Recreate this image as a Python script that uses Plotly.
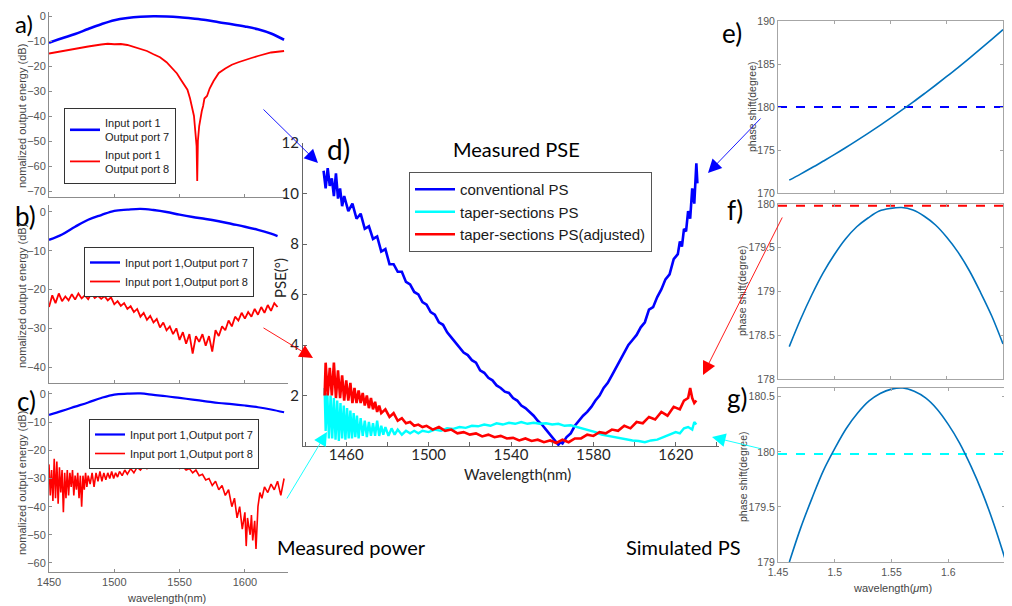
import plotly.graph_objects as go

# The page body keeps its default 8px margin, so the figure is drawn 8px in from
# the window's top-left corner; all reference pixel positions are shifted by OFF.
OFF = 8
W, H = 1012 - OFF, 606 - OFF

# ---------------- data ----------------
# panel a
a_wl_blue = [1450, 1460, 1470, 1480, 1490, 1500, 1510, 1520, 1530, 1540, 1550, 1560, 1570, 1580, 1590, 1600, 1610, 1620, 1630]
a_blue = [-10.7, -8.9, -7.2, -5.2, -3.3, -1.7, -0.8, -0.3, -0.1, -0.2, -0.5, -1.0, -1.6, -2.5, -3.3, -4.2, -5.3, -7.0, -9.5]
a_wl_red = [1450, 1460, 1470, 1480, 1490, 1495, 1500, 1505, 1510, 1515, 1520, 1525, 1530, 1535, 1540, 1545, 1548, 1551,
            1554, 1556, 1558, 1560, 1561, 1562, 1563, 1563.5, 1564, 1565, 1566, 1567, 1568, 1569, 1571, 1573, 1576,
            1580, 1585, 1590, 1595, 1600, 1605, 1610, 1615, 1620, 1625, 1630]
a_red = [-15.0, -14.0, -13.0, -12.2, -11.4, -11.1, -11.3, -11.2, -11.6, -12.3, -13.0, -14.0, -15.3, -16.5, -18.5, -21.5,
         -23.0, -25.5, -28.0, -29.5, -33.0, -37.0, -40.0, -46.0, -52.0, -66.0, -50.0, -44.0, -40.0, -38.0, -36.0, -33.0,
         -32.0, -29.0, -26.0, -22.8, -21.0, -19.5, -18.5, -17.5, -16.8, -16.0, -15.3, -14.6, -14.3, -14.0]

# panel b
b_wl_blue = [1450, 1460, 1470, 1480, 1490, 1500, 1510, 1520, 1530, 1540, 1550, 1560, 1570, 1580, 1590, 1600, 1610, 1620, 1625]
b_blue = [-7.2, -5.8, -3.8, -2.0, -0.8, 0.3, 0.6, 0.8, 0.5, 0.0, -0.7, -1.3, -1.8, -2.4, -3.1, -3.8, -4.6, -5.6, -6.2]
b_wl_red = [1450.0, 1452.5, 1455.0, 1457.5, 1460.0, 1462.5, 1465.0, 1467.5, 1470.0, 1472.5, 1475.0, 1477.5, 1480.0,
            1482.5, 1485.0, 1487.5, 1490.0, 1492.5, 1495.0, 1497.5, 1500.0, 1502.5, 1505.0, 1507.5, 1510.0, 1512.5,
            1515.0, 1517.5, 1520.0, 1522.5, 1525.0, 1527.5, 1530.0, 1532.5, 1535.0, 1537.5, 1540.0, 1542.5, 1545.0,
            1547.5, 1550.0, 1552.5, 1555.0, 1557.5, 1560.0, 1562.5, 1565.0, 1567.5, 1570.0, 1572.5, 1575.0, 1577.5,
            1580.0, 1582.5, 1585.0, 1587.5, 1590.0, 1592.5, 1595.0, 1597.5, 1600.0, 1602.5, 1605.0, 1607.5, 1610.0,
            1612.5, 1615.0, 1617.5, 1620.0, 1622.5, 1625.0]
b_red = [-24.5, -21.5, -23.5, -21.0, -23.0, -21.8, -22.8, -21.2, -22.6, -21.0, -22.3, -21.5, -22.5, -21.0, -22.2,
         -21.6, -22.4, -21.7, -22.8, -22.0, -23.8, -23.0, -24.2, -23.5, -25.0, -24.3, -25.8, -25.0, -27.0, -26.0,
         -27.8, -26.8, -28.5, -27.6, -29.8, -28.5, -30.5, -29.5, -31.5, -30.0, -33.0, -31.0, -34.0, -31.5, -36.5,
         -32.0, -33.5, -31.5, -34.5, -32.0, -36.0, -30.5, -32.0, -29.5, -30.5, -28.0, -29.5, -27.0, -28.0, -26.0,
         -27.5, -25.8, -27.0, -25.0, -26.5, -24.5, -26.0, -24.0, -25.5, -23.5, -24.5]

# panel c
c_wl_blue = [1450, 1460, 1470, 1480, 1490, 1500, 1510, 1520, 1530, 1540, 1550, 1560, 1570, 1580, 1590, 1600, 1610, 1620, 1630]
c_blue = [-7.4, -6.0, -4.5, -3.0, -1.4, -0.2, 0.1, 0.2, -0.3, -0.8, -1.4, -2.0, -2.6, -3.2, -3.6, -4.1, -4.7, -5.5, -6.5]
c_wl_red = [1450, 1451, 1452, 1453, 1454, 1455, 1456, 1457, 1458, 1459, 1460, 1461, 1462, 1463, 1464, 1465, 1466, 1467,
            1468, 1469, 1470, 1471, 1472, 1473, 1474, 1475, 1476, 1477, 1478, 1479, 1480, 1481.5, 1483, 1484.5, 1486,
            1487.5, 1489, 1490.5, 1492, 1493.5, 1495, 1496.5, 1498, 1499.5, 1501, 1502.5, 1504, 1506, 1508, 1510,
            1512.5, 1515, 1517.5, 1520, 1522.5, 1525, 1527.5, 1530, 1532.5, 1535, 1537.5, 1540, 1542.5, 1545, 1547.5,
            1550, 1552.5, 1555, 1557.5, 1560, 1562.5, 1565, 1567.5, 1570, 1572.5, 1575, 1577.5, 1580, 1582.5, 1585,
            1587.5, 1590, 1592, 1594, 1596, 1598, 1600, 1601, 1602, 1604, 1605, 1606, 1607.5, 1608.5, 1610, 1611.5,
            1613, 1615, 1617.5, 1620, 1622.5, 1625, 1627.5, 1630]
c_red = [-25, -36, -27, -38, -23, -37, -24, -39, -26, -35, -27, -42, -28, -37, -27, -36, -28, -33, -27, -36, -29, -34,
         -28, -37, -29, -40, -29, -34, -28, -33, -29, -32, -28, -33, -28, -31, -27.5, -31, -28, -30.5, -28, -30, -27.5,
         -30, -28, -29.5, -27.5, -29, -27, -28.5, -26.5, -28, -26, -27, -25.5, -26.5, -25.5, -26, -25, -26, -25.2, -26,
         -25.5, -26.2, -25.5, -26.5, -25.8, -27, -26.5, -28, -27, -29, -28.5, -30.5, -30, -32.5, -31, -34, -32.5, -36,
         -34, -40, -37, -44, -40, -48, -42, -54, -44, -50, -43, -52, -45, -55, -40, -35, -37, -33, -35, -32, -34, -31,
         -36, -30]

# panel d (PSE)
d_wl_conv = [1449, 1450, 1451, 1452, 1453, 1454, 1455, 1456, 1457, 1458, 1459, 1461, 1463, 1465, 1467, 1469, 1471, 1473,
             1475, 1477, 1479, 1481, 1483, 1485, 1487, 1489, 1491, 1493, 1495, 1497, 1499, 1501, 1503, 1505, 1507, 1509,
             1511, 1513, 1515, 1517, 1519, 1521, 1523, 1525, 1527, 1529, 1531, 1533, 1535, 1537, 1539, 1541, 1543, 1545,
             1547, 1549, 1551, 1553, 1555, 1557, 1559, 1561, 1563, 1564, 1565, 1567, 1569, 1571, 1573, 1575, 1577, 1579,
             1581, 1583, 1585, 1587, 1589, 1591, 1593, 1595, 1597, 1599, 1601, 1603, 1605, 1607, 1609, 1611, 1613, 1615,
             1617, 1619, 1621, 1622, 1623, 1624, 1625, 1626, 1627, 1628, 1629, 1630, 1630.5]
d_conv = [10.9, 10.2, 11.0, 10.3, 10.6, 9.9, 10.8, 9.8, 10.2, 9.5, 9.9, 9.3, 9.6, 9.0, 9.2, 8.6, 8.7, 8.2, 8.3, 7.7, 7.8,
          7.2, 7.2, 6.9, 6.9, 6.5, 6.4, 6.1, 6.0, 5.7, 5.6, 5.3, 5.2, 4.9, 4.8, 4.5, 4.3, 4.1, 3.9, 3.7, 3.6, 3.4, 3.3,
          3.0, 2.9, 2.7, 2.6, 2.4, 2.3, 2.15, 2.1, 1.9, 1.8, 1.6, 1.5, 1.35, 1.2, 1.0, 0.85, 0.65, 0.45, 0.25, 0.05,
          0.15, 0.1, 0.35, 0.5, 0.8, 1.0, 1.2, 1.35, 1.55, 1.8, 2.0, 2.3, 2.5, 2.8, 3.1, 3.4, 3.7, 4.0, 4.2, 4.4, 4.7,
          4.9, 5.4, 5.5, 5.9, 6.2, 6.6, 6.8, 7.4, 7.6, 8.1, 7.9, 8.6, 8.5, 9.3, 9.0, 10.2, 9.6, 11.2, 10.4]
d_wl_adj = [1449.5, 1450, 1451, 1452, 1453, 1454, 1455, 1456, 1457, 1458, 1459, 1460, 1461, 1462, 1463, 1464, 1465, 1466,
            1467, 1468, 1469, 1470, 1471, 1472, 1473, 1474, 1475, 1476, 1477, 1479, 1481, 1483, 1485, 1487, 1489, 1491,
            1493, 1495, 1497, 1499, 1502, 1505, 1508, 1511, 1514, 1517, 1520, 1523, 1526, 1529, 1532, 1535, 1538, 1541,
            1544, 1547, 1550, 1553, 1556, 1559, 1562, 1565, 1568, 1571, 1574, 1577, 1580, 1583, 1586, 1589, 1592, 1595,
            1598, 1601, 1604, 1607, 1610, 1613, 1616, 1619, 1622, 1624, 1626, 1627, 1628, 1629, 1630]
d_adj = [2.0, 3.3, 2.0, 3.1, 2.0, 3.3, 1.9, 3.0, 1.9, 2.8, 1.8, 2.6, 1.8, 2.5, 1.7, 2.3, 1.7, 2.2, 1.7, 2.1, 1.6, 2.0,
         1.5, 1.9, 1.45, 1.75, 1.35, 1.6, 1.3, 1.45, 1.15, 1.3, 1.0, 1.1, 0.9, 0.95, 0.8, 0.85, 0.75, 0.8, 0.65, 0.75,
         0.6, 0.65, 0.5, 0.55, 0.45, 0.5, 0.38, 0.45, 0.35, 0.4, 0.3, 0.32, 0.22, 0.3, 0.2, 0.25, 0.15, 0.22, 0.12,
         0.25, 0.15, 0.3, 0.3, 0.45, 0.4, 0.55, 0.5, 0.65, 0.6, 0.8, 0.7, 0.95, 0.9, 1.15, 1.05, 1.35, 1.2, 1.55, 1.45,
         1.8, 1.9, 2.3, 1.9, 1.7, 1.8]
d_wl_taper = [1449.5, 1450, 1450.8, 1451.6, 1452.4, 1453.2, 1454, 1454.8, 1455.6, 1456.4, 1457.2, 1458, 1458.8, 1459.6,
              1460.4, 1461.2, 1462, 1462.8, 1463.6, 1464.4, 1465.2, 1466, 1467, 1468, 1469, 1470, 1471, 1472, 1473,
              1474, 1475, 1476, 1477, 1478, 1479, 1480.5, 1482, 1483.5, 1485, 1487, 1489, 1491, 1493, 1495, 1497, 1500,
              1503, 1506, 1509, 1512, 1515, 1518, 1521, 1524, 1527, 1530, 1533, 1536, 1539, 1542, 1545, 1548, 1551,
              1554, 1557, 1560, 1563, 1566, 1569, 1572, 1575, 1578, 1581, 1584, 1587, 1590, 1593, 1596, 1599, 1602,
              1605, 1608, 1611, 1614, 1617, 1620, 1622, 1624, 1626, 1628, 1629, 1630]
d_taper = [2.3, 0.6, 2.1, 0.3, 2.0, 0.3, 1.9, 0.25, 1.8, 0.2, 1.7, 0.3, 1.6, 0.25, 1.5, 0.3, 1.4, 0.3, 1.3, 0.35, 1.2,
           0.3, 1.1, 0.4, 1.0, 0.35, 0.95, 0.4, 0.9, 0.4, 1.0, 0.4, 0.8, 0.45, 0.75, 0.4, 0.7, 0.45, 0.65, 0.45, 0.6,
           0.5, 0.6, 0.5, 0.6, 0.55, 0.65, 0.6, 0.7, 0.68, 0.75, 0.72, 0.8, 0.78, 0.85, 0.8, 0.9, 0.85, 0.92, 0.88,
           0.95, 0.88, 0.92, 0.88, 0.9, 0.85, 0.88, 0.8, 0.82, 0.75, 0.7, 0.6, 0.55, 0.45, 0.4, 0.35, 0.3, 0.25, 0.22,
           0.2, 0.15, 0.22, 0.25, 0.35, 0.45, 0.55, 0.5, 0.7, 0.75, 0.65, 0.95, 0.85]

# panels e, f, g (simulated phase shift, wavelength in um)
sim_wl = [1.46, 1.47, 1.48, 1.49, 1.50, 1.51, 1.52, 1.53, 1.54, 1.55, 1.56, 1.57, 1.58, 1.59, 1.60, 1.61, 1.62, 1.63,
          1.64, 1.65]
e_phase = [171.50, 172.20, 172.93, 173.69, 174.46, 175.26, 176.09, 176.94, 177.81, 178.71, 179.63, 180.57, 181.54,
           182.53, 183.55, 184.59, 185.66, 186.75, 187.87, 189.0]
f_phase = [178.37, 178.68, 178.96, 179.21, 179.42, 179.60, 179.74, 179.84, 179.92, 179.95, 179.96, 179.93, 179.86,
           179.76, 179.62, 179.45, 179.24, 178.99, 178.72, 178.40]
g_phase = [179.00, 179.31, 179.58, 179.83, 180.03, 180.21, 180.35, 180.46, 180.53, 180.57, 180.58, 180.55, 180.49,
           180.39, 180.25, 180.08, 179.87, 179.63, 179.35, 179.03]
ref_wl = [1.45, 1.65]
e_ref = [180.0, 180.0]
f_ref = [179.98, 179.98]
g_ref = [179.98, 179.98]


# ---------------- helpers (reference window pixels -> paper fractions) ----------------
def px(x):
    return (x - OFF) / W


def py(y):
    return 1 - (y - OFF) / H


def dx(p0, p1):
    return [px(p0), px(p1)]


def dy(top, bot):
    return [py(bot), py(top)]


BLUE, RED, CYAN, SIM = "#0000ff", "#ff0000", "#00ffff", "#0072bd"

fig = go.Figure()

# a
fig.add_trace(go.Scatter(x=a_wl_blue, y=a_blue, mode="lines", line=dict(color=BLUE, width=2.6, shape="spline"),
                         name="Input port 1<br>Output port 7", xaxis="x", yaxis="y", legend="legend"))
fig.add_trace(go.Scatter(x=a_wl_red, y=a_red, mode="lines", line=dict(color=RED, width=1.8),
                         name="Input port 1<br>Output port 8", xaxis="x", yaxis="y", legend="legend"))
# b
fig.add_trace(go.Scatter(x=b_wl_blue, y=b_blue, mode="lines", line=dict(color=BLUE, width=2.4, shape="spline"),
                         name="Input port 1,Output port 7", xaxis="x2", yaxis="y2", legend="legend2"))
fig.add_trace(go.Scatter(x=b_wl_red, y=b_red, mode="lines", line=dict(color=RED, width=1.8),
                         name="Input port 1,Output port 8", xaxis="x2", yaxis="y2", legend="legend2"))
# c
fig.add_trace(go.Scatter(x=c_wl_blue, y=c_blue, mode="lines", line=dict(color=BLUE, width=2.2, shape="spline"),
                         name="Input port 1,Output port 7", xaxis="x3", yaxis="y3", legend="legend3"))
fig.add_trace(go.Scatter(x=c_wl_red, y=c_red, mode="lines", line=dict(color=RED, width=1.6),
                         name="Input port 1,Output port 8", xaxis="x3", yaxis="y3", legend="legend3"))
# d
fig.add_trace(go.Scatter(x=d_wl_conv, y=d_conv, mode="lines", line=dict(color=BLUE, width=2.6),
                         name="conventional PS", xaxis="x4", yaxis="y4", legend="legend4"))
fig.add_trace(go.Scatter(x=d_wl_taper, y=d_taper, mode="lines", line=dict(color=CYAN, width=2.4),
                         name="taper-sections PS", xaxis="x4", yaxis="y4", legend="legend4"))
fig.add_trace(go.Scatter(x=d_wl_adj, y=d_adj, mode="lines", line=dict(color=RED, width=2.6),
                         name="taper-sections PS(adjusted)", xaxis="x4", yaxis="y4", legend="legend4"))
# e, f, g
for xa, ya, ph, rf, col in [("x5", "y5", e_phase, e_ref, BLUE), ("x6", "y6", f_phase, f_ref, RED),
                            ("x7", "y7", g_phase, g_ref, CYAN)]:
    fig.add_trace(go.Scatter(x=ref_wl, y=rf, mode="lines", line=dict(color=col, width=2, dash="dash"),
                             showlegend=False, xaxis=xa, yaxis=ya))
    fig.add_trace(go.Scatter(x=sim_wl, y=ph, mode="lines", line=dict(color=SIM, width=1.6, shape="spline"),
                             showlegend=False, xaxis=xa, yaxis=ya))

GREY_AX = "#8c8c8c"
small_font = dict(family="Arial", size=11, color="#555555")


def abc_x(dom, show_labels):
    return dict(domain=dom, range=[1450, 1633], showline=True, linecolor=GREY_AX, linewidth=1, ticks="inside",
                ticklen=3, tickcolor=GREY_AX, tickvals=[1450, 1500, 1550, 1600], showticklabels=show_labels,
                tickfont=small_font, showgrid=False, zeroline=False, automargin=False)


def abc_y(dom, rng, tv):
    return dict(domain=dom, range=rng, showline=True, linecolor=GREY_AX, linewidth=1, ticks="inside", ticklen=3,
                tickcolor=GREY_AX, tickvals=tv, tickfont=small_font, showgrid=False, zeroline=False,
                automargin=False)


def sim_x(dom, show_labels):
    return dict(domain=dom, range=[1.45, 1.65], showline=True, mirror="ticks", linecolor="#a6a6a6", linewidth=1,
                ticks="inside", ticklen=3, tickcolor="#a6a6a6", tickvals=[1.45, 1.5, 1.55, 1.6, 1.65],
                ticktext=["1.45", "1.5", "1.55", "1.6", "1.65"], showticklabels=show_labels,
                tickfont=dict(family="Arial", size=10.5, color="#555555"), showgrid=False, zeroline=False,
                automargin=False)


def sim_y(dom, rng, tv, tt):
    return dict(domain=dom, range=rng, showline=True, mirror="ticks", linecolor="#a6a6a6", linewidth=1,
                ticks="inside", ticklen=3, tickcolor="#a6a6a6", tickvals=tv, ticktext=tt,
                tickfont=dict(family="Arial", size=10.5, color="#555555"), showgrid=False, zeroline=False,
                automargin=False)


legend_small = dict(font=dict(family="Arial", size=11, color="#222222"), bordercolor="#333333", borderwidth=1,
                    bgcolor="white", xanchor="left", yanchor="top", itemwidth=30, tracegroupgap=0)

fig.update_layout(
    width=W, height=H, autosize=False, margin=dict(l=0, r=0, t=0, b=0, pad=0, autoexpand=False),
    paper_bgcolor="white", plot_bgcolor="white",
    xaxis=dict(abc_x(dx(49, 288), False), anchor="y"),
    yaxis=dict(abc_y(dy(12, 197), [-72.4, 1.6], [-70, -60, -50, -40, -30, -20, -10, 0]), anchor="x"),
    xaxis2=dict(abc_x(dx(49, 288), False), anchor="y2"),
    yaxis2=dict(abc_y(dy(205, 383), [-44.1, 1.8], [-40, -30, -20, -10, 0]), anchor="x2"),
    xaxis3=dict(abc_x(dx(49, 288), True), anchor="y3"),
    yaxis3=dict(abc_y(dy(391, 572), [-63.2, 1.06], [-60, -50, -40, -30, -20, -10, 0]), anchor="x3"),
    xaxis4=dict(domain=dx(303, 719), range=[1439, 1641], anchor="y4", showline=True, linecolor="#666666",
                linewidth=1, ticks="inside", ticklen=4, tickcolor="#666666",
                tickvals=[1460, 1500, 1540, 1580, 1620], ticklabelstandoff=-5,
                minor=dict(tickvals=[1440, 1480, 1520, 1560, 1600, 1640], ticks="inside", ticklen=4,
                           tickcolor="#666666"),
                tickfont=dict(family="Lato", size=15, color="#262626"), showgrid=False, zeroline=False,
                automargin=False),
    yaxis4=dict(domain=dy(143, 446), range=[0, 12], anchor="x4", showline=True, linecolor="#666666", linewidth=1,
                ticks="inside", ticklen=4, tickcolor="#666666", tickvals=[2, 4, 6, 8, 10, 12],
                tickfont=dict(family="Lato", size=15, color="#262626"), showgrid=False, zeroline=False,
                automargin=False),
    xaxis5=dict(sim_x(dx(778, 1003), False), anchor="y5"),
    yaxis5=dict(sim_y(dy(21, 193), [170, 190], [170, 175, 180, 185, 190], ["170", "175", "180", "185", "190"]),
                anchor="x5"),
    xaxis6=dict(sim_x(dx(778, 1003), False), anchor="y6"),
    yaxis6=dict(sim_y(dy(204, 379), [178, 180], [178, 178.5, 179, 179.5, 180],
                      ["178", "178.5", "179", "179.5", "180"]), anchor="x6"),
    xaxis7=dict(sim_x(dx(778, 1005), True), anchor="y7"),
    yaxis7=dict(sim_y(dy(388, 562), [179, 180.58], [179, 179.5, 180, 180.5], ["179", "179.5", "180", "180.5"]),
                anchor="x7"),
    legend=dict(legend_small, x=px(64), y=py(108)),
    legend2=dict(legend_small, x=px(84), y=py(247)),
    legend3=dict(legend_small, x=px(89), y=py(419)),
    legend4=dict(font=dict(family="Arial", size=15, color="#1a1a1a"), bordercolor="#555555", borderwidth=1,
                 bgcolor="white", xanchor="left", yanchor="top", x=px(409), y=py(172), itemwidth=40,
                 tracegroupgap=0),
)

ann = []


def txt(x, y, s, size, family="Lato", color="#000000", angle=0):
    ann.append(dict(x=px(x), y=py(y), xref="paper", yref="paper", text=s, showarrow=False, textangle=angle,
                    font=dict(family=family, size=size, color=color), xanchor="center", yanchor="middle"))


# panel letters
txt(24, 24, "a)", 24)
txt(25, 216, "b)", 26)
txt(26, 401, "c)", 26)
txt(338, 149, "d)", 28)
txt(732, 33, "e)", 26)
txt(735, 210, "f)", 26)
txt(737, 398, "g)", 26)
# titles / captions
txt(516, 149, "Measured PSE", 20)
txt(351, 547, "Measured power", 20)
txt(683, 547, "Simulated PS", 20)
# axis titles
txt(22, 116, "nomalized output energy (dB)", 11, "Arial", "#444444", -90)
txt(22, 296, "nomalized output energy (dB)", 11, "Arial", "#444444", -90)
txt(22, 483, "nomalized output energy (dB)", 11, "Arial", "#444444", -90)
txt(166, 598, "wavelength(nm)", 11, "Arial", "#444444")
txt(280, 278, "PSE(°)", 15, "Lato", "#262626", -90)
txt(517, 474, "Wavelength(nm)", 15, "Lato", "#262626")
txt(752, 107, "phase shift(degree)", 10.5, "Arial", "#444444", -90)
txt(742, 291, "phase shift(degree)", 10.5, "Arial", "#444444", -90)
txt(743, 477, "phase shift(degree)", 10.5, "Arial", "#444444", -90)
txt(892, 588, "wavelength(<i>μ</i>m)", 11, "Arial", "#444444")


def arrow(hx, hy, tx, ty, col):
    ann.append(dict(x=px(hx), y=py(hy), xref="paper", yref="paper", ax=tx - hx, ay=ty - hy,
                    axref="pixel", ayref="pixel", text="", showarrow=True, arrowhead=2, arrowsize=3,
                    arrowwidth=0.9, arrowcolor=col, standoff=0))


arrow(318, 163, 262, 108, BLUE)
arrow(313, 358, 262, 327, RED)
arrow(327, 432, 286, 500, CYAN)
arrow(708, 173, 762, 117, BLUE)
arrow(703, 375, 783, 216, RED)
arrow(712, 437, 762, 449, CYAN)

fig.update_layout(annotations=ann)
fig.write_html("out.html")
